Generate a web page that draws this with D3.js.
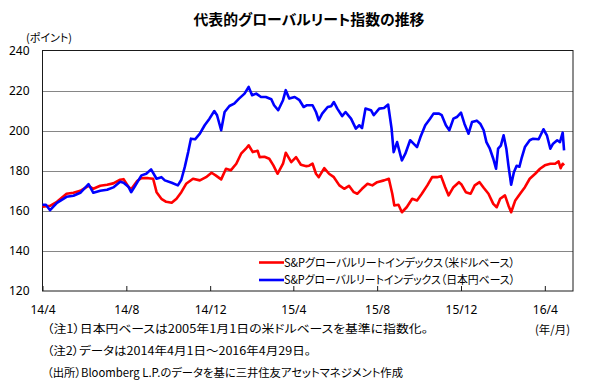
<!DOCTYPE html>
<html><head><meta charset="utf-8">
<script src="https://cdn.jsdelivr.net/npm/d3@7/dist/d3.min.js"></script>
<style>
html,body{margin:0;padding:0;background:#fff;}
svg{display:block;font-family:"Noto Sans CJK JP","Noto Sans",sans-serif;}
.jp{font-feature-settings:"palt";}
</style></head>
<body><svg id="c" width="604" height="382"></svg>
<script>
// ---- data ----
const usdDates = ["2014-04-01","2014-04-12","2014-04-22","2014-05-06","2014-05-16","2014-05-26","2014-06-07","2014-06-14","2014-06-24","2014-07-04","2014-07-13","2014-07-23","2014-07-28","2014-08-04","2014-08-08","2014-08-17","2014-08-23","2014-09-02","2014-09-09","2014-09-14","2014-09-21","2014-09-28","2014-10-06","2014-10-13","2014-10-20","2014-10-27","2014-11-06","2014-11-16","2014-11-25","2014-12-03","2014-12-09","2014-12-17","2014-12-24","2014-12-31","2015-01-08","2015-01-15","2015-01-22","2015-01-26","2015-02-01","2015-02-08","2015-02-11","2015-02-18","2015-02-25","2015-03-03","2015-03-09","2015-03-17","2015-03-21","2015-03-29","2015-04-05","2015-04-12","2015-04-20","2015-04-24","2015-04-29","2015-05-04","2015-05-08","2015-05-16","2015-05-23","2015-05-30","2015-06-07","2015-06-14","2015-06-21","2015-06-28","2015-07-03","2015-07-10","2015-07-18","2015-07-25","2015-08-01","2015-08-11","2015-08-18","2015-08-23","2015-08-26","2015-09-01","2015-09-06","2015-09-13","2015-09-21","2015-09-28","2015-10-05","2015-10-13","2015-10-20","2015-10-27","2015-11-02","2015-11-08","2015-11-13","2015-11-20","2015-11-28","2015-12-02","2015-12-08","2015-12-15","2015-12-21","2015-12-28","2016-01-03","2016-01-10","2016-01-17","2016-01-22","2016-01-27","2016-02-03","2016-02-08","2016-02-12","2016-02-18","2016-02-25","2016-03-03","2016-03-10","2016-03-18","2016-03-25","2016-04-01","2016-04-09","2016-04-16","2016-04-21","2016-04-24","2016-04-27","2016-04-29"];
const usdValues = [162,162.5,164.5,168.5,169,170,172.5,171,172.5,173,173.7,175.5,175.8,172,170.8,175,176.3,176.3,176,169.3,166,164.5,164,166,169.3,173.5,176,175.2,176.8,179,177.7,175.7,181,180.2,183.5,188.5,191,192.7,189.3,190,186.8,187,186,182.7,178.5,183.5,189,184.3,186.8,183,182.3,182.5,183.5,178.5,176.8,181.3,178.5,176.8,172.7,171,172.5,169.3,168.5,171,173.5,172.7,174.3,175.2,176,168.5,162.7,163,159.3,161.8,166,165.2,168.5,172.7,176.8,176.8,177.3,171.8,167.7,171.8,174.3,173,169.3,168.5,172.7,174.3,171.5,168.5,163.5,161.8,166,167.7,162.7,159.3,165.2,168.5,171.8,176,178.5,181,182.7,183.5,183.5,184.7,181.3,183.5,182.7];

const jpyDates = ["2014-04-01","2014-04-06","2014-04-12","2014-04-22","2014-05-06","2014-05-16","2014-05-26","2014-06-07","2014-06-14","2014-06-24","2014-07-04","2014-07-13","2014-07-23","2014-07-28","2014-08-04","2014-08-08","2014-08-13","2014-08-23","2014-08-30","2014-09-06","2014-09-14","2014-09-21","2014-09-26","2014-10-06","2014-10-15","2014-10-20","2014-10-25","2014-10-30","2014-11-03","2014-11-09","2014-11-16","2014-11-23","2014-11-30","2014-12-07","2014-12-11","2014-12-17","2014-12-22","2014-12-29","2015-01-05","2015-01-12","2015-01-20","2015-01-26","2015-01-31","2015-02-06","2015-02-13","2015-02-20","2015-02-28","2015-03-04","2015-03-10","2015-03-17","2015-03-21","2015-03-26","2015-04-03","2015-04-10","2015-04-16","2015-04-21","2015-04-29","2015-05-04","2015-05-08","2015-05-13","2015-05-21","2015-05-26","2015-05-30","2015-06-04","2015-06-11","2015-06-16","2015-06-24","2015-07-01","2015-07-06","2015-07-10","2015-07-15","2015-07-23","2015-07-27","2015-08-04","2015-08-11","2015-08-17","2015-08-22","2015-08-25","2015-08-30","2015-09-04","2015-09-06","2015-09-11","2015-09-18","2015-09-23","2015-09-28","2015-10-03","2015-10-10","2015-10-17","2015-10-22","2015-10-30","2015-11-03","2015-11-09","2015-11-14","2015-11-20","2015-11-25","2015-12-01","2015-12-06","2015-12-12","2015-12-17","2015-12-24","2015-12-29","2016-01-03","2016-01-07","2016-01-12","2016-01-17","2016-01-21","2016-01-24","2016-01-28","2016-02-01","2016-02-05","2016-02-08","2016-02-12","2016-02-16","2016-02-20","2016-02-24","2016-02-27","2016-03-03","2016-03-10","2016-03-15","2016-03-23","2016-03-30","2016-04-04","2016-04-09","2016-04-13","2016-04-19","2016-04-23","2016-04-27","2016-04-29"];
const jpyValues = [163,163,160.3,164,167,167.5,169,173.3,169,170,170.5,171.7,174.5,174,172,169.3,172,177.7,178.5,180.7,176,176.8,175.2,174,172.7,175.5,181.8,189.3,196,195.7,198.5,202.7,206,209.8,207.7,200.2,209.3,212.3,213.5,216,218.5,221.8,217.7,218.5,216.8,216.8,215.7,212.7,210.2,215.2,220.2,216,216.8,215.2,211.8,212.7,212.7,209.3,205.2,208.5,211.8,212.2,214.3,211,207.3,209.3,206,201,202.7,201.3,211,210.2,207.7,211,211.3,213,201,189.3,194.3,187.7,185.2,188.5,195.2,193.5,191.8,196.8,202.7,206,208.5,208.5,207.7,202.7,200.2,206,206.8,209,203.5,198.5,204.3,205,203.5,200.2,194.3,191,186,181,191,192.5,197.7,191,182.7,173,179.3,182.5,182,186,191.8,195.2,196,195.7,200.7,197.7,191,193.5,195.2,194.3,199,190.2];

const seriesNames = ["S&Pグローバルリートインデックス（米ドルベース）","S&Pグローバルリートインデックス（日本円ベース）"];
const yTicks = [120,140,160,180,200,220,240];
const xTickDates = ["2014-04-01","2014-08-01","2014-12-01","2015-04-01","2015-08-01","2015-12-01","2016-04-01"];
const xTickLabels = ["14/4","14/8","14/12","15/4","15/8","15/12","16/4"];
const titleText = "代表的グローバルリート指数の推移";
const yUnit = "(ポイント)";
const xUnit = "(年/月)";
const notes = ["（注1）日本円ベースは2005年1月1日の米ドルベースを基準に指数化。","（注2）データは2014年4月1日～2016年4月29日。","（出所）Bloomberg L.P.のデータを基に三井住友アセットマネジメント作成"];

// ---- drawing ----
const parse = d3.timeParse("%Y-%m-%d");
const svg = d3.select("#c");
const L = 42.5, R = 573, T = 50.5, B = 291;
const x = d3.scaleTime().domain([parse("2014-04-01"), parse("2016-05-12")]).range([L, R]);
const y = d3.scaleLinear().domain([120, 240]).range([B, T]);

// grid lines
svg.append("g").selectAll("line").data(yTicks.filter(v => v > 120 && v < 240)).join("line")
  .attr("x1", L).attr("x2", R).attr("y1", d => Math.round(y(d)) + 0.5).attr("y2", d => Math.round(y(d)) + 0.5)
  .attr("stroke", "#868686").attr("stroke-width", 1);

// frame
svg.append("rect").attr("x", L).attr("y", T).attr("width", R - L).attr("height", B - T)
  .attr("fill", "none").attr("stroke", "#1a1a1a").attr("stroke-width", 1);

// y axis labels
const yAxis = d3.axisLeft(y).tickValues(yTicks).tickSize(0).tickPadding(13);
const gy = svg.append("g").attr("transform", `translate(${L},0)`).call(yAxis);
gy.select(".domain").remove();
gy.selectAll("text").attr("font-size", 12).attr("fill", "#000").attr("font-family", "'Noto Sans','DejaVu Sans',sans-serif");

// x axis
const xAxis = d3.axisBottom(x).tickValues(xTickDates.map(parse)).tickFormat((d, i) => xTickLabels[i]).tickSize(-5).tickPadding(14);
const gx = svg.append("g").attr("transform", `translate(0,${B})`).call(xAxis);
gx.select(".domain").remove();
gx.selectAll(".tick line").attr("stroke", "#1a1a1a");
gx.selectAll("text").attr("font-size", 12).attr("fill", "#000").attr("font-family", "'Noto Sans','DejaVu Sans',sans-serif");

// lines
const mk = (dates, vals) => dates.map((d, i) => ({ d: parse(d), v: vals[i] }));
const line = d3.line().x(p => x(p.d)).y(p => y(p.v));
const colors = ["#ff0000", "#0000ff"];
const dataSets = [mk(usdDates, usdValues), mk(jpyDates, jpyValues)];
dataSets.forEach((ds, i) => {
  svg.append("path").datum(ds).attr("d", line).attr("fill", "none")
    .attr("stroke", colors[i]).attr("stroke-width", 2.6).attr("stroke-linejoin", "round");
});

// legend
const legY = [262.5, 280];
seriesNames.forEach((n, i) => {
  svg.append("line").attr("x1", 259).attr("x2", 284).attr("y1", legY[i]).attr("y2", legY[i])
    .attr("stroke", colors[i]).attr("stroke-width", 2.6);
  svg.append("text").attr("class", "jp").attr("x", 284).attr("y", legY[i]).attr("dy", "0.36em")
    .attr("font-size", 11.5).attr("textLength", 231).attr("lengthAdjust", "spacingAndGlyphs").text(n);
});

// title
svg.append("text").attr("class", "jp").attr("x", 309).attr("y", 25).attr("text-anchor", "middle")
  .attr("font-size", 14.5).attr("font-weight", "bold").attr("textLength", 231).attr("lengthAdjust", "spacingAndGlyphs").text(titleText);

// units
svg.append("text").attr("class", "jp").attr("x", 26).attr("y", 42).attr("font-size", 11).text(yUnit);
svg.append("text").attr("class", "jp").attr("x", 535).attr("y", 334).attr("font-size", 11.5).attr("textLength", 35).attr("lengthAdjust", "spacingAndGlyphs").text(xUnit);

// notes
const noteY = [333, 355, 377];
const noteW = [381, 264, 356];
notes.forEach((n, i) => {
  svg.append("text").attr("class", "jp").attr("x", 47).attr("y", noteY[i]).attr("font-size", 11.5)
    .attr("textLength", noteW[i]).attr("lengthAdjust", "spacingAndGlyphs").text(n);
});
</script></body></html>
